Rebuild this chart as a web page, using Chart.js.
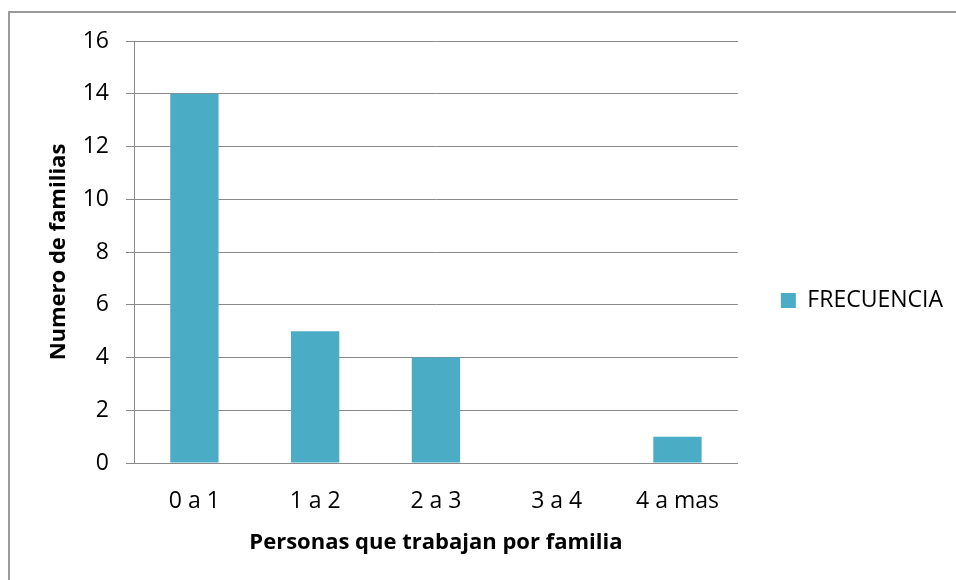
<!DOCTYPE html>
<html>
<head>
<meta charset="utf-8">
<script src="https://cdn.jsdelivr.net/npm/chart.js@4/dist/chart.umd.min.js"></script>
<style>
  html, body { margin: 0; padding: 0; background: #fff; }
  #frame {
    position: absolute; left: 8px; top: 11px; right: -4px; bottom: -4px;
    border-top: 2px solid #9a9a9a; border-left: 2px solid #9a9a9a;
  }
  #c { position: absolute; left: 0; top: 0; }
</style>
</head>
<body>
<div id="frame"></div>
<canvas id="c" width="956" height="580"></canvas>
<script>
// Personas que trabajan por familia — frecuencia
const categories = ['0 a 1', '1 a 2', '2 a 3', '3 a 4', '4 a mas'];
const frecuencia = [14, 5, 4, 0, 1];
const seriesLabel = 'FRECUENCIA';
const yMin = 0, yMax = 16, yStep = 2;

const FONT = '"Open Sans", "Noto Sans", sans-serif';
const GRID = '#8a8a8a';

new Chart(document.getElementById('c'), {
  type: 'bar',
  data: {
    labels: categories,
    datasets: [{
      label: seriesLabel,
      data: frecuencia,
      backgroundColor: '#4BACC6',
      borderWidth: 0,
      categoryPercentage: 1,
      barPercentage: 0.4,
    }],
  },
  options: {
    responsive: false,
    animation: false,
    devicePixelRatio: 1,
    layout: { padding: { left: 0, right: 3, top: 41, bottom: 20 } },
    plugins: {
      tooltip: { enabled: false },
      legend: {
        position: 'right',
        align: 'center',
        labels: {
          boxWidth: 15,
          boxHeight: 15,
          padding: 43,
          color: '#000',
          font: { family: FONT, size: 23 },
        },
      },
    },
    scales: {
      x: {
        grid: { display: false, drawTicks: false },
        border: { display: true, color: GRID, width: 1 },
        ticks: { color: '#000', padding: 25, font: { family: FONT, size: 23 } },
        title: {
          display: true,
          text: 'Personas que trabajan por familia',
          color: '#000',
          font: { family: FONT, size: 22, weight: 'bold' },
          padding: { top: 4, bottom: 4 },
        },
        afterFit: s => { s.height = 97; },
      },
      y: {
        min: yMin,
        max: yMax,
        ticks: { stepSize: yStep, color: '#000', padding: 17, font: { family: FONT, size: 23 } },
        grid: { color: GRID, lineWidth: 1, tickLength: 8 },
        border: { display: true, color: GRID, width: 1 },
        title: {
          display: true,
          text: 'Numero de familias',
          color: '#000',
          font: { family: FONT, size: 22, weight: 'bold' },
          padding: { top: 46, bottom: 0 },
        },
        afterFit: s => { s.width = 134; },
      },
    },
  },
});
</script>
</body>
</html>
